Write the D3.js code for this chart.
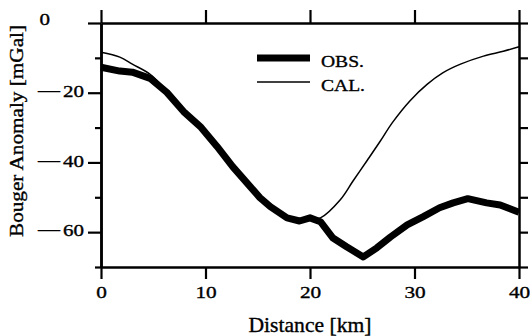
<!DOCTYPE html>
<html>
<head>
<meta charset="utf-8">
<title>Bouger Anomaly</title>
<script src="https://d3js.org/d3.v7.min.js"></script>
<style>
  body { margin: 0; background: #fff; }
  svg { display: block; }
  text { font-family: "Liberation Serif", "Times New Roman", serif; fill: #000; stroke: #000; stroke-width: 0.35px; }
</style>
</head>
<body>
<script>
// observed profile
var obsKm  = [0, 1.8, 3, 4.7, 6.3, 7.9, 9.5, 11.1, 12.6, 14.3, 15.2, 16.2, 17.8, 19, 20, 21, 22.2, 23.5, 25.1, 26.4, 27.7, 29.3, 30.8, 32.4, 33.7, 35.1, 36.9, 38.2, 40];
var obsVal = [-12.7, -13.8, -14.1, -15.9, -19.9, -25.4, -29.7, -35.4, -41.2, -47, -50.1, -52.7, -55.9, -56.8, -55.9, -57, -61.7, -64.2, -67.1, -64.5, -61.4, -57.9, -55.6, -53, -51.6, -50.4, -51.6, -52.2, -54.3];
// calculated profile
var calKm  = [0, 1.8, 3, 4.7, 6.3, 7.9, 9.5, 11.1, 12.6, 14.3, 15.2, 16.2, 17.8, 19, 20, 21, 22.9, 24.1, 25.5, 26.7, 27.9, 29.6, 31.2, 32.7, 34.4, 36.6, 38.5, 40];
var calVal = [-8.4, -9.8, -11.8, -14.7, -19.4, -24.9, -29.2, -35, -40.8, -46.5, -49.7, -52.4, -55.4, -56.1, -56.2, -55.9, -50.7, -45.4, -39.3, -34, -28.5, -22.2, -17.6, -14.3, -11.8, -9.5, -8.1, -6.8];

var xTicks = [0, 10, 20, 30, 40];
var yMajor = [0, -20, -40, -60];
var yMinor = [-10, -30, -50, -70];
var yRight = [0, -10, -20, -30, -40, -50, -60, -70];
var legendLabels = ['OBS.', 'CAL.'];

var width = 530, height = 336;

var x = d3.scaleLinear().domain([0, 40]).range([101, 519]);
var y = d3.scaleLinear().domain([-70, 0]).range([267, 23]);

var svg = d3.select('body')
            .append('svg')
            .attr('width', width)
            .attr('height', height);

function stretch(sel, k) {
  sel.each(function () {
    var w = this.getComputedTextLength();
    d3.select(this).attr('textLength', w * k).attr('lengthAdjust', 'spacingAndGlyphs');
  });
}

function styleAxis(g) {
  g.select('.domain').attr('stroke-width', 2.5);
  g.selectAll('.tick line').attr('stroke-width', 2.2);
}

// curves
var obs = obsKm.map(function (d, i) { return [d, obsVal[i]]; });
var cal = calKm.map(function (d, i) { return [d, calVal[i]]; });

var obsLine = d3.line().x(function (d) { return x(d[0]); }).y(function (d) { return y(d[1]); });
var calLine = d3.line().x(function (d) { return x(d[0]); }).y(function (d) { return y(d[1]); })
                .curve(d3.curveCatmullRom.alpha(0.5));

svg.append('path')
   .datum(cal)
   .attr('d', calLine)
   .attr('fill', 'none')
   .attr('stroke', '#000')
   .attr('stroke-width', 1.5);

svg.append('path')
   .datum(obs)
   .attr('d', obsLine)
   .attr('fill', 'none')
   .attr('stroke', '#000')
   .attr('stroke-width', 7)
   .attr('stroke-linejoin', 'round');

// axes
var xAxisBottom = svg.append('g')
  .attr('transform', 'translate(0,' + y(-70) + ')')
  .call(d3.axisBottom(x).tickValues(xTicks).tickSize(12).tickSizeOuter(0));
styleAxis(xAxisBottom);
xAxisBottom.selectAll('.tick text')
  .attr('y', 31)
  .attr('dy', null)
  .style('font-size', '17px')
  .call(stretch, 1.25);

var xAxisTop = svg.append('g')
  .attr('transform', 'translate(0,' + y(0) + ')')
  .call(d3.axisTop(x).tickValues(xTicks).tickSize(13).tickSizeOuter(0).tickFormat(''));
styleAxis(xAxisTop);

var yAxisMinor = svg.append('g')
  .attr('transform', 'translate(' + x(0) + ',0)')
  .call(d3.axisLeft(y).tickValues(yMinor).tickSize(6).tickSizeOuter(0).tickFormat(''));
styleAxis(yAxisMinor);

var yAxisLeft = svg.append('g')
  .attr('transform', 'translate(' + x(0) + ',0)')
  .call(d3.axisLeft(y).tickValues(yMajor).tickSize(13).tickSizeOuter(0));
styleAxis(yAxisLeft);

yAxisLeft.selectAll('.tick text').each(function (d) {
  var t = d3.select(this).text('').attr('x', -17).attr('dy', '0.22em').style('font-size', '17px');
  if (d === 0) {
    t.attr('x', -51).attr('dy', 1);
    t.append('tspan').text('0').attr('textLength', 10.5).attr('lengthAdjust', 'spacingAndGlyphs');
  } else {
    t.append('tspan').text('\u2014').style('font-size', '22px');
    t.append('tspan').attr('dx', 3).text(Math.abs(d))
     .attr('textLength', 21).attr('lengthAdjust', 'spacingAndGlyphs');
  }
});

var yAxisRight = svg.append('g')
  .attr('transform', 'translate(' + x(40) + ',0)')
  .call(d3.axisRight(y).tickValues(yRight).tickSize(9).tickSizeOuter(0).tickFormat(''));
styleAxis(yAxisRight);

// axis titles
svg.append('text')
   .attr('x', (x(0) + x(40)) / 2)
   .attr('y', 332)
   .attr('text-anchor', 'middle')
   .style('font-size', '21px')
   .text('Distance [km]')
   .attr('textLength', 123)
   .attr('lengthAdjust', 'spacingAndGlyphs');

svg.append('text')
   .attr('transform', 'translate(23,131) rotate(-90)')
   .attr('text-anchor', 'middle')
   .style('font-size', '19px')
   .text('Bouger Anomaly [mGal]')
   .attr('textLength', 212)
   .attr('lengthAdjust', 'spacingAndGlyphs');

// legend
var legend = svg.append('g');
var items = legend.selectAll('g')
  .data(legendLabels)
  .enter()
  .append('g')
  .attr('transform', function (d, i) { return 'translate(257,' + (58 + i * 24) + ')'; });

items.append('line')
  .attr('x1', 0).attr('x2', 53)
  .attr('stroke', '#000')
  .attr('stroke-width', function (d, i) { return i === 0 ? 7 : 1.5; });

items.append('text')
  .attr('x', 64)
  .attr('y', 9)
  .style('font-size', '17px')
  .text(function (d) { return d; })
  .call(stretch, 1.15);
</script>
</body>
</html>
